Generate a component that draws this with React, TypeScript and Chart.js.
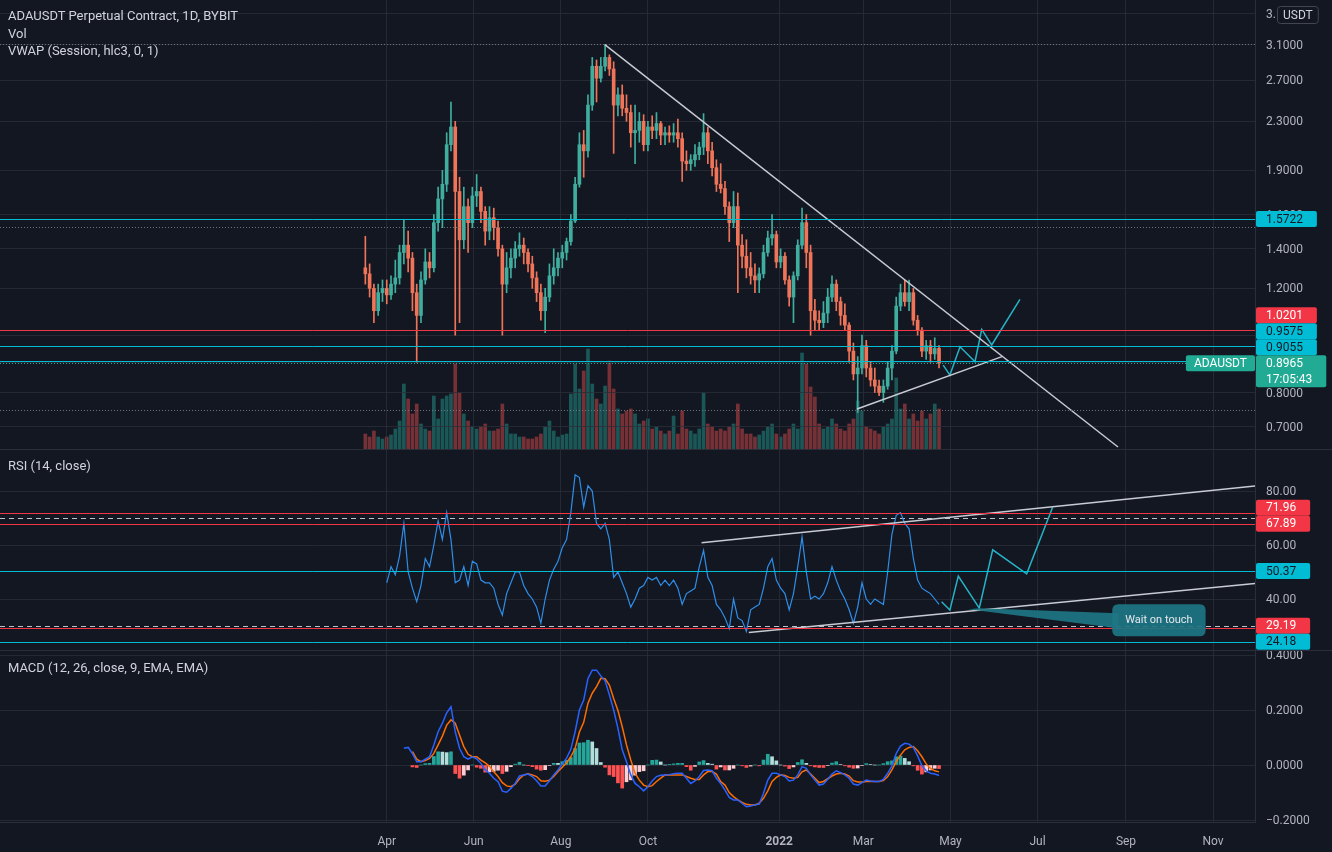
import React, { useEffect, useRef } from "react";
import { Chart, registerables } from "chart.js";

Chart.register(...registerables);

// ---------------- DATA ----------------
const FIRST_CANDLE_DAY = 74;
const DAYS_PER_CANDLE = 3;

const OPEN = [
  1.30, 1.27, 1.20, 1.10, 1.18, 1.20, 1.17, 1.22, 1.25, 1.38,
  1.42, 1.35, 1.18, 1.08, 1.24, 1.33, 1.30, 1.55, 1.70, 1.80,
  2.10, 2.25, 1.75, 1.45, 1.65, 1.55, 1.72, 1.75, 1.62, 1.50,
  1.58, 1.52, 1.40, 1.22, 1.30, 1.35, 1.40, 1.42, 1.38, 1.32,
  1.25, 1.18, 1.10, 1.16, 1.26, 1.30, 1.35, 1.38, 1.44, 1.56,
  1.80, 2.10, 2.05, 2.45, 2.85, 2.72, 2.85, 2.95, 2.82, 2.45,
  2.55, 2.42, 2.38, 2.20, 2.22, 2.30, 2.10, 2.25, 2.22, 2.28,
  2.18, 2.20, 2.18, 2.20, 2.15, 1.97, 1.95, 1.98, 2.02, 2.08,
  2.20, 2.05, 1.92, 1.80, 1.77, 1.65, 1.55, 1.65, 1.42, 1.36,
  1.30, 1.26, 1.24, 1.27, 1.38, 1.46, 1.48, 1.33, 1.36, 1.24,
  1.16, 1.26, 1.42, 1.55, 1.38, 1.10, 1.06, 1.05, 1.09, 1.16,
  1.22, 1.14, 1.08, 1.04, 0.94, 0.86, 0.88, 0.96, 0.88, 0.84,
  0.82, 0.80, 0.82, 0.88, 0.94, 1.12, 1.18, 1.14, 1.18, 1.06,
  1.02, 0.94, 0.96, 0.93, 0.95,
];
const HIGH = [
  1.47, 1.32, 1.22, 1.22, 1.24, 1.24, 1.26, 1.34, 1.42, 1.57,
  1.50, 1.38, 1.22, 1.28, 1.40, 1.38, 1.60, 1.78, 1.90, 2.20,
  2.48, 2.30, 1.85, 1.78, 1.70, 1.78, 1.87, 1.78, 1.65, 1.65,
  1.64, 1.56, 1.42, 1.38, 1.40, 1.44, 1.49, 1.46, 1.40, 1.36,
  1.28, 1.22, 1.20, 1.32, 1.40, 1.38, 1.42, 1.46, 1.60, 1.85,
  2.20, 2.22, 2.55, 2.95, 2.92, 2.95, 3.10, 2.98, 2.90, 2.62,
  2.65, 2.55, 2.45, 2.45, 2.38, 2.36, 2.30, 2.35, 2.38, 2.30,
  2.25, 2.26, 2.28, 2.32, 2.20, 2.05, 2.02, 2.10, 2.12, 2.37,
  2.25, 2.12, 1.98, 1.95, 1.82, 1.68, 1.75, 1.74, 1.48, 1.45,
  1.38, 1.32, 1.30, 1.42, 1.50, 1.60, 1.50, 1.40, 1.38, 1.26,
  1.28, 1.45, 1.64, 1.60, 1.42, 1.15, 1.10, 1.14, 1.20, 1.26,
  1.24, 1.16, 1.13, 1.05, 0.97, 0.92, 1.00, 0.98, 0.90, 0.88,
  0.84, 0.84, 0.90, 0.96, 1.16, 1.22, 1.24, 1.24, 1.20, 1.08,
  1.03, 0.98, 0.98, 0.99, 0.96,
];
const LOW = [
  1.22, 1.16, 1.05, 1.08, 1.14, 1.13, 1.15, 1.18, 1.22, 1.32,
  1.28, 1.10, 0.90, 1.05, 1.22, 1.25, 1.28, 1.50, 1.52, 1.75,
  2.05, 1.00, 1.05, 1.40, 1.38, 1.52, 1.65, 1.55, 1.42, 1.45,
  1.45, 1.36, 1.00, 1.18, 1.25, 1.30, 1.36, 1.32, 1.28, 1.20,
  1.14, 1.06, 1.01, 1.14, 1.22, 1.26, 1.30, 1.34, 1.42, 1.55,
  1.78, 1.85, 2.00, 2.40, 2.48, 2.68, 2.80, 2.75, 2.03, 2.35,
  2.35, 2.30, 2.08, 1.95, 2.12, 2.05, 2.05, 2.15, 2.15, 2.10,
  2.10, 2.12, 2.12, 2.08, 1.82, 1.90, 1.90, 1.93, 1.98, 2.02,
  1.95, 1.86, 1.75, 1.74, 1.60, 1.44, 1.52, 1.18, 1.30, 1.25,
  1.22, 1.18, 1.18, 1.25, 1.36, 1.42, 1.30, 1.30, 1.22, 1.12,
  1.05, 1.24, 1.40, 1.30, 1.00, 1.02, 1.02, 1.03, 1.05, 1.14,
  1.10, 1.04, 1.02, 0.90, 0.84, 0.74, 0.86, 0.85, 0.82, 0.80,
  0.79, 0.77, 0.81, 0.84, 0.93, 1.10, 1.12, 1.10, 1.04, 1.00,
  0.92, 0.91, 0.90, 0.91, 0.88,
];
const CLOSE = [
  1.27, 1.20, 1.10, 1.18, 1.20, 1.17, 1.22, 1.25, 1.38, 1.42,
  1.35, 1.18, 1.08, 1.24, 1.33, 1.30, 1.55, 1.70, 1.80, 2.10,
  2.25, 1.75, 1.45, 1.65, 1.55, 1.72, 1.75, 1.62, 1.50, 1.58,
  1.52, 1.40, 1.22, 1.30, 1.35, 1.40, 1.42, 1.38, 1.32, 1.25,
  1.18, 1.10, 1.16, 1.26, 1.30, 1.35, 1.38, 1.44, 1.56, 1.80,
  2.10, 2.05, 2.45, 2.85, 2.72, 2.85, 2.95, 2.82, 2.45, 2.55,
  2.42, 2.38, 2.20, 2.22, 2.30, 2.10, 2.25, 2.22, 2.28, 2.18,
  2.20, 2.18, 2.20, 2.15, 1.97, 1.95, 1.98, 2.02, 2.08, 2.20,
  2.05, 1.92, 1.80, 1.77, 1.65, 1.55, 1.65, 1.42, 1.36, 1.30,
  1.26, 1.24, 1.27, 1.38, 1.46, 1.48, 1.33, 1.36, 1.24, 1.16,
  1.26, 1.42, 1.55, 1.38, 1.10, 1.06, 1.05, 1.09, 1.16, 1.22,
  1.14, 1.08, 1.04, 0.94, 0.86, 0.88, 0.96, 0.88, 0.84, 0.82,
  0.80, 0.82, 0.88, 0.94, 1.12, 1.18, 1.14, 1.18, 1.06, 1.02,
  0.94, 0.96, 0.93, 0.95, 0.8965,
];
const VOLUME = [
  15, 12, 18, 12, 10, 12, 14, 20, 28, 65,
  50, 35, 45, 25, 20, 18, 53, 30, 50, 53,
  55, 85, 56, 35, 28, 22, 20, 22, 25, 18,
  18, 20, 45, 25, 15, 15, 12, 12, 10, 10,
  12, 15, 22, 28, 18, 12, 14, 15, 55, 85,
  60, 78, 100, 65, 50, 45, 63, 88, 60, 40,
  35, 38, 40, 35, 25, 28, 30, 20, 22, 18,
  15, 18, 33, 15, 38, 20, 18, 15, 20, 56,
  25, 22, 18, 20, 18, 22, 25, 45, 20, 15,
  15, 12, 14, 18, 22, 25, 15, 12, 15, 20,
  25, 20, 96, 85, 62, 52, 25, 20, 22, 30,
  25, 20, 18, 25, 30, 48, 38, 22, 20, 18,
  15, 22, 25, 30, 71, 40, 45, 30, 35, 28,
  38, 30, 35, 45, 40,
];
const RSI = [
  null, null, null, null, null, 46, 52, 49, 56, 68,
  50, 44, 39, 45, 55, 52, 60, 69, 62, 72,
  62, 46, 47, 52, 45, 54, 53, 47, 46, 46,
  44, 38, 34, 42, 46, 50, 50, 45, 42, 40,
  37, 31, 40, 47, 51, 54, 59, 62, 72, 86,
  85, 74, 82, 80, 68, 66, 68, 62, 48, 50,
  46, 42, 37, 40, 44, 45, 48, 47, 48, 45,
  47, 45, 47, 44, 38, 42, 43, 44, 52, 58,
  48, 45, 38, 36, 33, 29, 40, 33, 32, 28,
  36, 37, 38, 44, 52, 55, 47, 44, 42, 36,
  42, 52, 63, 50, 40, 41, 40, 42, 46, 52,
  47, 43, 40, 36, 31, 37, 46, 40, 38, 40,
  39, 38, 50, 64, 71, 72, 68, 66, 55, 47,
  44, 43, 42, 40, 38,
];
const MACD = [
  null, null, null, null, null, null, null, null, null, 0.061,
  0.064, 0.042, 0.012, 0.012, 0.021, 0.030, 0.073, 0.121, 0.152, 0.190,
  0.212, 0.121, 0.061, 0.030, 0.021, 0.030, 0.022, 0.006, -0.018, -0.030,
  -0.048, -0.061, -0.095, -0.099, -0.085, -0.067, -0.040, -0.036, -0.033, -0.042,
  -0.057, -0.076, -0.076, -0.057, -0.036, -0.018, 0.004, 0.025, 0.057, 0.121,
  0.200, 0.236, 0.315, 0.345, 0.345, 0.324, 0.306, 0.255, 0.200, 0.133,
  0.055, 0.012, -0.036, -0.067, -0.079, -0.094, -0.079, -0.058, -0.042, -0.037,
  -0.036, -0.035, -0.032, -0.030, -0.030, -0.048, -0.067, -0.058, -0.042, -0.020,
  -0.018, -0.021, -0.048, -0.067, -0.091, -0.118, -0.127, -0.127, -0.139, -0.152,
  -0.149, -0.145, -0.142, -0.103, -0.055, -0.030, -0.030, -0.036, -0.042, -0.058,
  -0.055, -0.036, -0.006, -0.012, -0.036, -0.055, -0.073, -0.069, -0.052, -0.033,
  -0.021, -0.028, -0.036, -0.048, -0.069, -0.073, -0.064, -0.055, -0.058, -0.060,
  -0.060, -0.052, -0.030, -0.003, 0.042, 0.069, 0.079, 0.076, 0.064, 0.033,
  -0.003, -0.021, -0.030, -0.033, -0.038,
];
const SIGNAL = [
  null, null, null, null, null, null, null, null, null, null,
  null, 0.049, 0.021, 0.012, 0.016, 0.024, 0.042, 0.073, 0.105, 0.145,
  0.164, 0.152, 0.109, 0.067, 0.039, 0.030, 0.030, 0.018, 0.008, -0.005,
  -0.025, -0.042, -0.064, -0.076, -0.079, -0.070, -0.050, -0.036, -0.032, -0.036,
  -0.042, -0.057, -0.059, -0.055, -0.042, -0.024, -0.008, 0.008, 0.030, 0.061,
  0.120, 0.155, 0.225, 0.261, 0.285, 0.315, 0.314, 0.291, 0.242, 0.198,
  0.139, 0.073, 0.018, -0.030, -0.055, -0.073, -0.079, -0.075, -0.060, -0.048,
  -0.036, -0.036, -0.036, -0.036, -0.036, -0.042, -0.048, -0.053, -0.053, -0.036,
  -0.024, -0.024, -0.033, -0.060, -0.073, -0.100, -0.115, -0.127, -0.136, -0.143,
  -0.145, -0.145, -0.139, -0.121, -0.094, -0.060, -0.045, -0.036, -0.038, -0.045,
  -0.048, -0.045, -0.025, -0.018, -0.033, -0.048, -0.064, -0.060, -0.050, -0.040,
  -0.033, -0.030, -0.033, -0.040, -0.057, -0.062, -0.062, -0.060, -0.060, -0.060,
  -0.060, -0.057, -0.042, -0.018, 0.012, 0.036, 0.055, 0.064, 0.067, 0.052,
  0.030, 0.004, -0.012, -0.021, -0.025,
];

const MONTH_TICK_DAYS = [90, 151, 212, 273, 365, 424, 485, 546, 608, 669];
const MONTH_LABELS = ["Apr", "Jun", "Aug", "Oct", "2022", "Mar", "May", "Jul", "Sep", "Nov"];
const X_MIN = -181.0;
const X_MAX = 698.4;

const PRICE_MIN = 0.642;
const PRICE_MAX = 3.689;
const PRICE_TICKS = [0.7, 0.8, 0.9, 1.0, 1.2, 1.4, 1.6, 1.9, 2.3, 2.7, 3.1, 3.5];
const PRICE_LEVELS = [1.5722, 1.0201, 0.9575, 0.9055];
const PRICE_LEVEL_KIND = ["cyan", "red", "cyan", "cyan"];
const PRICE_DOTTED = [3.108, 1.522, 0.747];
const SYMBOL = "ADAUSDT";
const QUOTE = "USDT";
const COUNTDOWN = "17:05:43";
const VOL_AXIS_MAX = 449;

const PRICE_DOWNTREND = [{ x: 242.8, y: 3.1 }, { x: 602.4, y: 0.647 }];
const PRICE_UPTREND = [{ x: 419.5, y: 0.75 }, { x: 521.1, y: 0.92 }];
const PRICE_PROJECTION = [
  { x: 479.9, y: 0.89 }, { x: 484.6, y: 0.856 }, { x: 491.7, y: 0.956 }, { x: 502.2, y: 0.902 },
  { x: 506.9, y: 1.023 }, { x: 513.9, y: 0.9625 }, { x: 533.7, y: 1.15 },
];

const RSI_MIN = 21.11;
const RSI_MAX = 95.19;
const RSI_TICKS = [40, 60, 80];
const RSI_LEVELS = [71.96, 67.89, 50.37, 29.19, 24.18];
const RSI_LEVEL_KIND = ["red", "red", "cyan", "red", "cyan"];
const RSI_BANDS = [70, 30];
const RSI_UPPER_TREND = [{ x: 310.6, y: 60.85 }, { x: 698.4, y: 81.85 }];
const RSI_LOWER_TREND = [{ x: 343.7, y: 27.59 }, { x: 698.4, y: 45.74 }];
const RSI_PROJECTION = [
  { x: 478.8, y: 39.0 }, { x: 484.6, y: 35.9 }, { x: 490.5, y: 48.5 }, { x: 505.2, y: 36.6 },
  { x: 514.6, y: 58.2 }, { x: 538.4, y: 49.3 }, { x: 556.6, y: 74.0 },
];
const NOTE_TEXT = "Wait on touch";
const NOTE_ANCHOR = { x: 505.2, y: 36.6 };

const MACD_MIN = -0.20727;
const MACD_MAX = 0.41455;
const MACD_TICKS = [-0.2, 0, 0.2, 0.4];

// ---------------- STYLE ----------------
const FONT = "Roboto, 'Noto Sans', 'DejaVu Sans', sans-serif";
const BG = "#131722";
const GRID = "rgba(42,46,57,0.8)";
const SEP = "#2a2e39";
const TEXT = "#b2b5be";
const LEGEND = "#d1d4dc";
const UP = "#3fae9f";
const DOWN = "#ef7458";
const UP_VOL = "rgba(38,166,154,0.45)";
const DOWN_VOL = "rgba(239,83,80,0.45)";
const CYAN = "#00bcd4";
const RED = "#f23645";
const TEAL = "#22ab94";
const DARK = "#131722";
const TREND = "#c8cbd3";
const PROJ = "#26b3c6";
const RSI_COLOR = "#2f8ee8";
const MACD_COLOR = "#2962ff";
const SIGNAL_COLOR = "#ff6d00";
const KIND_COLOR: any = { cyan: CYAN, red: RED };
const KIND_TEXT: any = { cyan: DARK, red: "#ffffff" };

Chart.defaults.font.family = FONT;

const candleDay = (i: number) => FIRST_CANDLE_DAY + i * DAYS_PER_CANDLE + 1;

function xAxis(showLabels: boolean, showGrid = true): any {
  return {
    type: "linear",
    min: X_MIN,
    max: X_MAX,
    bounds: "data",
    offset: false,
    grid: { display: showGrid, color: GRID, drawTicks: false, offset: false },
    border: { display: showLabels, color: SEP },
    ticks: {
      display: showLabels,
      autoSkip: false,
      maxRotation: 0,
      padding: 13,
      color: TEXT,
      font: (ctx: any) => ({
        family: FONT,
        size: 12,
        weight: MONTH_LABELS[ctx.index] === "2022" ? "bold" : "normal",
      }),
      callback: (_v: any, idx: number) => MONTH_LABELS[idx],
    },
    afterBuildTicks: (s: any) => {
      s.ticks = MONTH_TICK_DAYS.map((v) => ({ value: v }));
      s.min = X_MIN;
      s.max = X_MAX;
    },
    afterFit: (s: any) => {
      s.height = showLabels ? 30 : 0;
      s.paddingLeft = 0;
      s.paddingRight = 0;
      s.paddingTop = 0;
      s.paddingBottom = 0;
    },
  };
}

function yAxis(type: string, min: number, max: number, ticks: number[], fmt: (v: number) => string): any {
  return {
    type,
    position: "right",
    min,
    max,
    bounds: "data",
    beginAtZero: false,
    grid: { color: GRID, drawTicks: false },
    border: { display: true, color: SEP },
    ticks: {
      autoSkip: false,
      padding: 11,
      labelOffset: 1,
      color: TEXT,
      font: { family: FONT, size: 12 },
      callback: (v: any) => fmt(Number(v)),
    },
    afterBuildTicks: (s: any) => {
      s.ticks = ticks.map((v) => ({ value: v }));
      s.min = min;
      s.max = max;
    },
    afterFit: (s: any) => {
      s.width = 77;
      s.paddingTop = 0;
      s.paddingBottom = 0;
      s.paddingLeft = 0;
      s.paddingRight = 0;
    },
  };
}

function baseOptions(scales: any): any {
  return {
    responsive: false,
    maintainAspectRatio: false,
    devicePixelRatio: 1,
    animation: false,
    events: [],
    layout: { padding: 0 },
    plugins: { legend: { display: false }, tooltip: { enabled: false } },
    scales,
  };
}

function lineDs(data: any[], color: string, width: number, order = 0): any {
  return {
    type: "line",
    data,
    borderColor: color,
    borderWidth: width,
    pointRadius: 0,
    tension: 0,
    fill: false,
    order,
    spanGaps: false,
  };
}

function hLine(ctx: any, area: any, y: number, color: string, dash: number[] = []) {
  const py = Math.round(y) + 0.5;
  ctx.save();
  ctx.strokeStyle = color;
  ctx.lineWidth = 1;
  ctx.setLineDash(dash);
  ctx.beginPath();
  ctx.moveTo(area.left, py);
  ctx.lineTo(area.right, py);
  ctx.stroke();
  ctx.restore();
}

function roundRect(ctx: any, x: number, y: number, w: number, h: number, r: number) {
  ctx.beginPath();
  ctx.moveTo(x + r, y);
  ctx.lineTo(x + w - r, y);
  ctx.quadraticCurveTo(x + w, y, x + w, y + r);
  ctx.lineTo(x + w, y + h - r);
  ctx.quadraticCurveTo(x + w, y + h, x + w - r, y + h);
  ctx.lineTo(x + r, y + h);
  ctx.quadraticCurveTo(x, y + h, x, y + h - r);
  ctx.lineTo(x, y + r);
  ctx.quadraticCurveTo(x, y, x + r, y);
  ctx.closePath();
}

const ROW = 16;
function placeLabels(items: { center: number; rows: number }[]): number[] {
  const order = items.map((it, i) => ({ ...it, i })).sort((a, b) => b.center - a.center);
  const tops: number[] = [];
  let limit = Infinity;
  for (const it of order) {
    const h = ROW * it.rows;
    let top = it.center - ROW / 2;
    if (top + h > limit) top = limit - h;
    tops[it.i] = top;
    limit = top;
  }
  return tops;
}

function drawAxisLabel(ctx: any, x: number, top: number, lines: string[], bg: string, fg: string) {
  ctx.save();
  ctx.font = `12px ${FONT}`;
  const w = Math.max(...lines.map((t) => ctx.measureText(t).width)) + 24;
  ctx.fillStyle = bg;
  roundRect(ctx, x, top, w, ROW * lines.length, 2);
  ctx.fill();
  ctx.fillStyle = fg;
  ctx.textAlign = "left";
  ctx.textBaseline = "middle";
  lines.forEach((t, k) => ctx.fillText(t, x + 10, top + ROW / 2 + ROW * k + 0.5));
  ctx.restore();
}

// ---------------- VOLUME (under price pane) ----------------
function volumeConfig(): any {
  const idx = CLOSE.map((_, i) => i);
  return {
    type: "bar",
    data: {
      datasets: [
        {
          data: idx.map((i) => ({ x: candleDay(i), y: VOLUME[i] })),
          backgroundColor: idx.map((i) => (CLOSE[i] >= OPEN[i] ? UP_VOL : DOWN_VOL)),
          barThickness: 3,
        },
      ],
    },
    options: baseOptions({
      x: xAxis(false, false),
      y: {
        type: "linear",
        position: "right",
        min: 0,
        max: VOL_AXIS_MAX,
        bounds: "data",
        grid: { display: false, drawTicks: false },
        border: { display: false },
        ticks: { display: false },
        afterFit: (s: any) => {
          s.width = 77;
          s.paddingTop = 0;
          s.paddingBottom = 0;
        },
      },
    }),
  };
}

// ---------------- PRICE PANE ----------------
function priceConfig(): any {
  const idx = CLOSE.map((_, i) => i);
  const isUp = (i: number) => CLOSE[i] >= OPEN[i];
  const last = CLOSE.length - 1;
  const plugin = {
    id: "priceOverlay",
    afterDatasetsDraw(chart: any) {
      const { ctx, chartArea, scales } = chart;
      const y = scales.y;
      PRICE_DOTTED.forEach((v) => hLine(ctx, chartArea, y.getPixelForValue(v), "rgba(120,123,134,0.9)", [1, 2]));
      PRICE_LEVELS.forEach((v, k) => hLine(ctx, chartArea, y.getPixelForValue(v), KIND_COLOR[PRICE_LEVEL_KIND[k]]));
      hLine(ctx, chartArea, y.getPixelForValue(CLOSE[last]), TEAL, [1, 2]);
    },
    afterDraw(chart: any) {
      const { ctx, scales } = chart;
      const y = scales.y;
      const items: any[] = PRICE_LEVELS.map((v, k) => ({
        center: y.getPixelForValue(v),
        rows: 1,
        lines: [v.toFixed(4)],
        bg: KIND_COLOR[PRICE_LEVEL_KIND[k]],
        fg: KIND_TEXT[PRICE_LEVEL_KIND[k]],
      }));
      items.push({
        center: y.getPixelForValue(CLOSE[last]),
        rows: 2,
        lines: [CLOSE[last].toFixed(4), COUNTDOWN],
        bg: TEAL,
        fg: "#ffffff",
      });
      const tops = placeLabels(items);
      items.forEach((it, k) => drawAxisLabel(ctx, y.left + 1, tops[k], it.lines, it.bg, it.fg));
      const curTop = tops[items.length - 1];
      ctx.save();
      ctx.font = `12px ${FONT}`;
      const sw = ctx.measureText(SYMBOL).width + 16;
      ctx.fillStyle = TEAL;
      roundRect(ctx, y.left - sw, curTop, sw, ROW, 2);
      ctx.fill();
      ctx.fillStyle = "#ffffff";
      ctx.textAlign = "center";
      ctx.textBaseline = "middle";
      ctx.fillText(SYMBOL, y.left - sw / 2, curTop + ROW / 2 + 0.5);
      const qw = ctx.measureText(QUOTE).width + 12;
      const qx = y.left + 22;
      ctx.fillStyle = BG;
      roundRect(ctx, qx, 6, qw, 18, 3);
      ctx.fill();
      ctx.strokeStyle = "#434651";
      ctx.lineWidth = 1;
      roundRect(ctx, qx + 0.5, 6.5, qw - 1, 17, 3);
      ctx.stroke();
      ctx.fillStyle = LEGEND;
      ctx.fillText(QUOTE, qx + qw / 2, 15.5);
      ctx.restore();
    },
  };
  return {
    type: "bar",
    data: {
      datasets: [
        lineDs(PRICE_DOWNTREND, TREND, 1.5),
        lineDs(PRICE_UPTREND, TREND, 1.5),
        lineDs(PRICE_PROJECTION, PROJ, 1.5),
        {
          type: "bar",
          data: idx.map((i) => ({ x: candleDay(i), y: [OPEN[i], CLOSE[i]] })),
          backgroundColor: idx.map((i) => (isUp(i) ? UP : DOWN)),
          barThickness: 3,
          minBarLength: 1,
          grouped: false,
          order: 1,
        },
        {
          type: "bar",
          data: idx.map((i) => ({ x: candleDay(i), y: [LOW[i], HIGH[i]] })),
          backgroundColor: idx.map((i) => (isUp(i) ? UP : DOWN)),
          barThickness: 1,
          grouped: false,
          order: 2,
        },
      ],
    },
    options: baseOptions({
      x: xAxis(false),
      y: yAxis("logarithmic", PRICE_MIN, PRICE_MAX, PRICE_TICKS, (v) => v.toFixed(4)),
    }),
    plugins: [plugin],
  };
}

// ---------------- RSI PANE ----------------
function rsiConfig(): any {
  const rsiData = RSI.map((v, i) => ({ x: candleDay(i), y: v })).filter((p) => p.y !== null);
  const plugin = {
    id: "rsiOverlay",
    beforeDatasetsDraw(chart: any) {
      const { ctx, chartArea, scales } = chart;
      RSI_BANDS.forEach((v) => hLine(ctx, chartArea, scales.y.getPixelForValue(v), "rgba(220,222,228,0.85)", [5, 4]));
    },
    afterDatasetsDraw(chart: any) {
      const { ctx, chartArea, scales } = chart;
      const y = scales.y;
      RSI_LEVELS.forEach((v, k) => hLine(ctx, chartArea, y.getPixelForValue(v), KIND_COLOR[RSI_LEVEL_KIND[k]]));
      const ax = scales.x.getPixelForValue(NOTE_ANCHOR.x);
      const ay = y.getPixelForValue(NOTE_ANCHOR.y);
      ctx.save();
      ctx.font = `11px ${FONT}`;
      const bw = ctx.measureText(NOTE_TEXT).width + 26;
      const bh = 32;
      const bx = ax + 133;
      const by = ay - 4;
      ctx.fillStyle = "rgba(30,118,132,0.92)";
      ctx.beginPath();
      ctx.moveTo(ax - 11, ay + 1);
      ctx.lineTo(ax, ay);
      ctx.lineTo(bx + 6, ay + 5);
      ctx.lineTo(bx + 6, ay + 20);
      ctx.closePath();
      ctx.fill();
      roundRect(ctx, bx, by, bw, bh, 6);
      ctx.fill();
      ctx.fillStyle = "#e6e8ee";
      ctx.textAlign = "center";
      ctx.textBaseline = "middle";
      ctx.fillText(NOTE_TEXT, bx + bw / 2, by + bh / 2);
      ctx.restore();
    },
    afterDraw(chart: any) {
      const { ctx, scales } = chart;
      const y = scales.y;
      const items = RSI_LEVELS.map((v) => ({ center: y.getPixelForValue(v), rows: 1 }));
      const tops = placeLabels(items);
      RSI_LEVELS.forEach((v, k) =>
        drawAxisLabel(ctx, y.left + 1, tops[k], [v.toFixed(2)], KIND_COLOR[RSI_LEVEL_KIND[k]], KIND_TEXT[RSI_LEVEL_KIND[k]])
      );
    },
  };
  return {
    type: "line",
    data: {
      datasets: [
        lineDs(rsiData, RSI_COLOR, 1.2, 1),
        lineDs(RSI_UPPER_TREND, TREND, 1.5, 0),
        lineDs(RSI_LOWER_TREND, TREND, 1.5, 0),
        lineDs(RSI_PROJECTION, PROJ, 1.5, 0),
      ],
    },
    options: baseOptions({
      x: xAxis(false),
      y: yAxis("linear", RSI_MIN, RSI_MAX, RSI_TICKS, (v) => v.toFixed(2)),
    }),
    plugins: [plugin],
  };
}

// ---------------- MACD PANE ----------------
function macdConfig(): any {
  const idx = MACD.map((_, i) => i).filter((i) => MACD[i] !== null && SIGNAL[i] !== null);
  const hist = idx.map((i) => (MACD[i] as number) - (SIGNAL[i] as number));
  const histColors = hist.map((h, k) => {
    const prev = k > 0 ? hist[k - 1] : 0;
    if (h >= 0) return h >= prev ? "#26a69a" : "#b2dfdb";
    return h <= prev ? "#ff5252" : "#ffcdd2";
  });
  const macdData = MACD.map((v, i) => ({ x: candleDay(i), y: v })).filter((p) => p.y !== null);
  const sigData = SIGNAL.map((v, i) => ({ x: candleDay(i), y: v })).filter((p) => p.y !== null);
  return {
    type: "bar",
    data: {
      datasets: [
        lineDs(macdData, MACD_COLOR, 1.5, 0),
        lineDs(sigData, SIGNAL_COLOR, 1.5, 0),
        {
          type: "bar",
          data: idx.map((i, k) => ({ x: candleDay(i), y: hist[k] })),
          backgroundColor: histColors,
          barThickness: 3,
          grouped: false,
          order: 1,
        },
      ],
    },
    options: baseOptions({
      x: xAxis(true),
      y: yAxis("linear", MACD_MIN, MACD_MAX, MACD_TICKS, (v) =>
        v < 0 ? "\u2212" + Math.abs(v).toFixed(4) : v.toFixed(4)
      ),
    }),
  };
}

// ---------------- COMPONENT ----------------
const legendStyle = (top: number): any => ({
  position: "absolute",
  left: 8,
  top,
  fontFamily: FONT,
  fontSize: 13,
  lineHeight: "18px",
  color: LEGEND,
  whiteSpace: "nowrap",
  pointerEvents: "none",
});

export default function App() {
  const volRef = useRef<HTMLCanvasElement>(null);
  const priceRef = useRef<HTMLCanvasElement>(null);
  const rsiRef = useRef<HTMLCanvasElement>(null);
  const macdRef = useRef<HTMLCanvasElement>(null);

  useEffect(() => {
    document.body.style.margin = "0";
    document.body.style.background = BG;
    const charts = [
      new Chart(volRef.current as HTMLCanvasElement, volumeConfig()),
      new Chart(priceRef.current as HTMLCanvasElement, priceConfig()),
      new Chart(rsiRef.current as HTMLCanvasElement, rsiConfig()),
      new Chart(macdRef.current as HTMLCanvasElement, macdConfig()),
    ];
    return () => charts.forEach((c) => c.destroy());
  }, []);

  return (
    <div style={{ position: "relative", width: 1332, height: 852, background: BG, overflow: "hidden" }}>
      <canvas ref={volRef} width={1332} height={449} style={{ position: "absolute", left: 0, top: 0 }} />
      <canvas ref={priceRef} width={1332} height={449} style={{ position: "absolute", left: 0, top: 0 }} />
      <div style={{ position: "absolute", left: 0, top: 449, width: 1332, height: 1, background: SEP }} />
      <canvas ref={rsiRef} width={1332} height={200} style={{ position: "absolute", left: 0, top: 450 }} />
      <div style={{ position: "absolute", left: 0, top: 650, width: 1332, height: 1, background: SEP }} />
      <canvas ref={macdRef} width={1332} height={201} style={{ position: "absolute", left: 0, top: 651 }} />
      <div style={legendStyle(7)}>ADAUSDT Perpetual Contract, 1D, BYBIT</div>
      <div style={legendStyle(25)}>Vol</div>
      <div style={legendStyle(42)}>VWAP (Session, hlc3, 0, 1)</div>
      <div style={legendStyle(457)}>RSI (14, close)</div>
      <div style={legendStyle(659)}>MACD (12, 26, close, 9, EMA, EMA)</div>
    </div>
  );
}
